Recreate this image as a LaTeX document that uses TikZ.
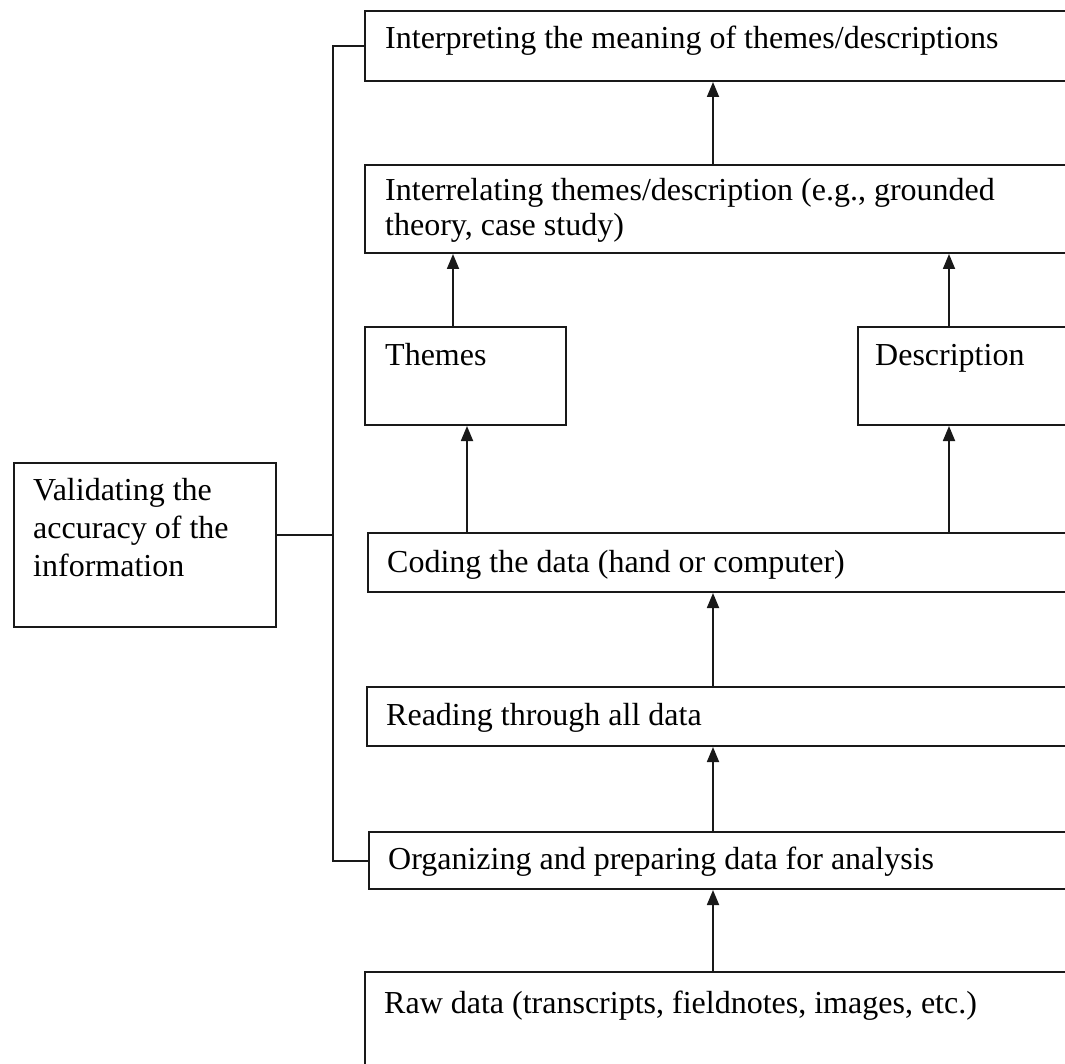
\documentclass[tikz,border=0pt]{standalone}
\usepackage{fontspec}
\setmainfont{Liberation Serif}
\usetikzlibrary{arrows.meta}
\begin{document}
\begin{tikzpicture}[x=1pt,y=-1pt,
  box/.style={draw=black!90, line width=2pt, inner sep=0pt, anchor=north west, rectangle},
  txt/.style={inner sep=0pt, anchor=base west, align=left, font=\fontsize{32}{35}\selectfont},
  arr/.style={draw=black!90, line width=1.8pt, -{Triangle[length=15pt,width=12pt]}},
  link/.style={draw=black!90, line width=2pt}]
\useasboundingbox (0,0) rectangle (1065,1064);
\clip (0,0) rectangle (1065,1064);

% boxes (the wide ones run past the right margin)
\node[box, minimum width=716pt, minimum height=70pt]  (interp)   at (364,10)  {};
\node[box, minimum width=716pt, minimum height=88pt]  (interrel) at (364,164) {};
\node[box, minimum width=201pt, minimum height=98pt]  (themes)   at (364,326) {};
\node[box, minimum width=223pt, minimum height=98pt]  (descr)    at (857,326) {};
\node[box, minimum width=713pt, minimum height=59pt]  (coding)   at (367,532) {};
\node[box, minimum width=714pt, minimum height=59pt]  (reading)  at (366,686) {};
\node[box, minimum width=712pt, minimum height=57pt]  (organ)    at (368,831) {};
\node[box, minimum width=716pt, minimum height=120pt] (raw)      at (364,971) {};
\node[box, minimum width=262pt, minimum height=164pt] (valid)    at (13,462)  {};

% labels (multi-line ones are placed by their last baseline)
\node[txt] (interpT)   at (385,49)  {Interpreting the meaning of themes/descriptions};
\node[txt] (interrelT) at (385,236) {Interrelating themes/description (e.g., grounded\\theory, case study)};
\node[txt] (themesT)   at (385,366) {Themes};
\node[txt] (descrT)    at (875,365) {Description};
\node[txt] (codingT)   at (387,572) {Coding the data (hand or computer)};
\node[txt] (readingT)  at (386,725) {Reading through all data};
\node[txt] (organT)    at (388,869) {Organizing and preparing data for analysis};
\node[txt] (rawT)      at (384,1013){Raw data (transcripts, fieldnotes, images, etc.)};
\node[txt, font=\fontsize{32}{38}\selectfont] (validT) at (33,576)
  {Validating the\\accuracy of the\\information};

% reference columns for the arrows
\coordinate (spine) at (713,0);
\coordinate (colA)  at (453,0);
\coordinate (colB)  at (467,0);
\coordinate (colC)  at (949,0);
\coordinate (rail)  at (333,0);

% upward flow
\draw[arr] (raw.north -| spine)      -- (organ.south -| spine);
\draw[arr] (organ.north -| spine)    -- (reading.south -| spine);
\draw[arr] (reading.north -| spine)  -- (coding.south -| spine);
\draw[arr] (coding.north -| colB)    -- (themes.south -| colB);
\draw[arr] (coding.north -| colC)    -- (descr.south -| colC);
\draw[arr] (themes.north -| colA)    -- (interrel.south -| colA);
\draw[arr] (descr.north -| colC)     -- (interrel.south -| colC);
\draw[arr] (interrel.north -| spine) -- (interp.south -| spine);

% validation bracket
\draw[link] (interp.west) -- (interp.west -| rail) -- (organ.west -| rail) -- (organ.west);
\draw[link] ([yshift=10pt]valid.east) -- ([yshift=10pt]valid.east -| rail);
\end{tikzpicture}
\end{document}
